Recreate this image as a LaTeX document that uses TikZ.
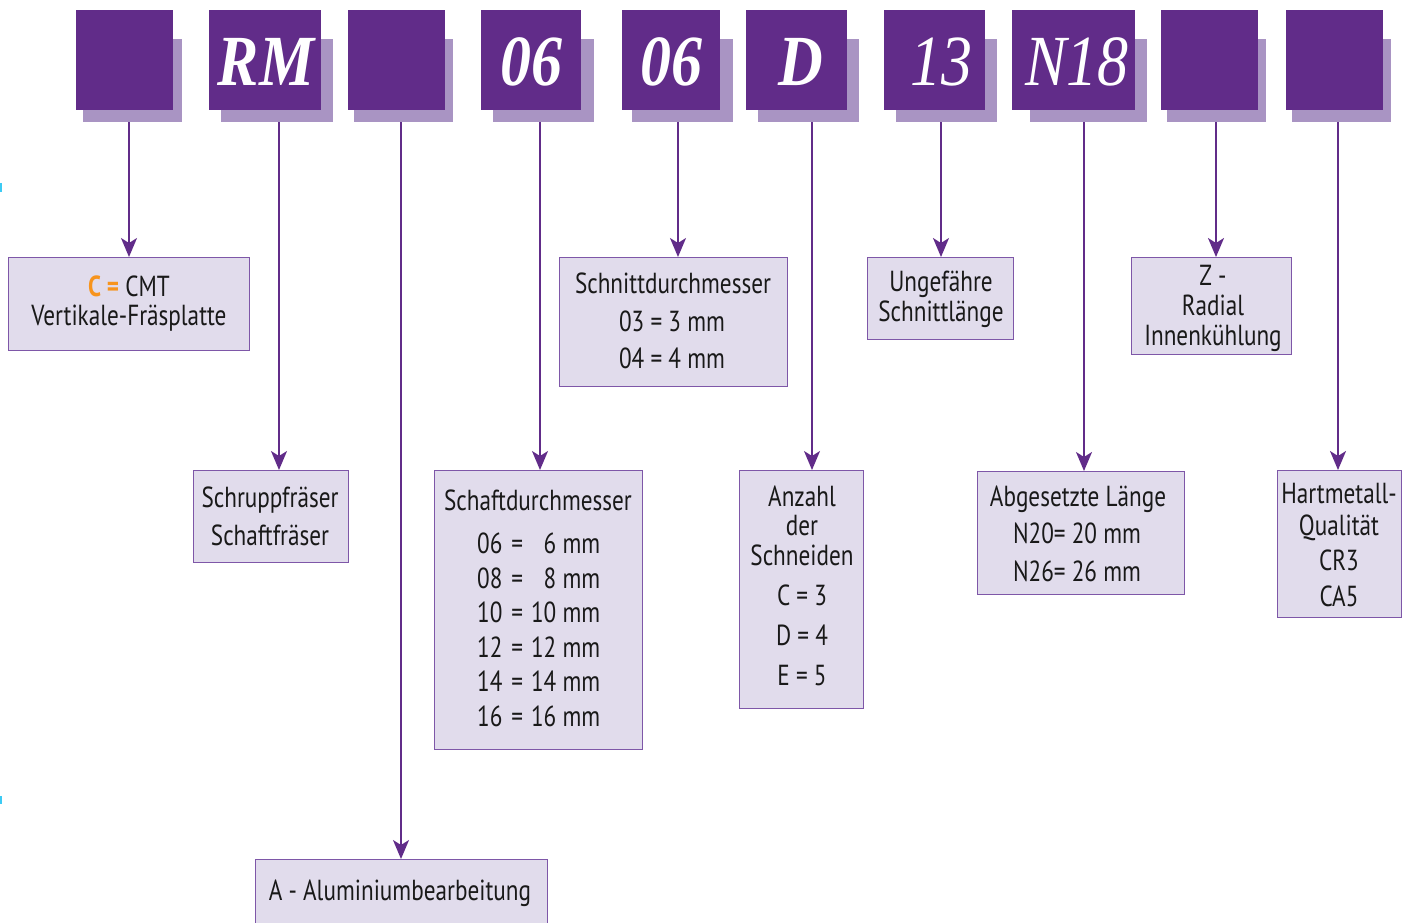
\documentclass[tikz,border=0pt]{standalone}
\usepackage{fontspec}
\setmainfont{PT Sans}[FakeStretch=0.8]
\newfontfamily\codefont{Liberation Serif}[FakeStretch=0.86]
\usetikzlibrary{arrows.meta}
\definecolor{dpurple}{HTML}{612C89}
\definecolor{spurple}{HTML}{A994C3}
\definecolor{lfill}{HTML}{E1DCEC}
\definecolor{lborder}{HTML}{7E57A8}
\definecolor{corange}{HTML}{F7941D}
\definecolor{ccyan}{HTML}{3CCBF4}
\tikzset{
  x=1pt, y=-1pt,
  front/.style={fill=dpurple, draw=none, anchor=north west, inner sep=0pt},
  shade/.style={fill=spurple, draw=none, anchor=north west, inner sep=0pt},
  code/.style={text=white, font=\codefont\bfseries\itshape\fontsize{72}{72}\selectfont, inner sep=0pt, text height=48pt, text depth=0pt},
  codel/.style={text=white, font=\codefont\itshape\fontsize{72}{72}\selectfont, inner sep=0pt, text height=48pt, text depth=0pt},
  infobox/.style={fill=lfill, draw=lborder, line width=1.3pt, anchor=north west, inner sep=0pt},
  txt/.style={font=\fontsize{29}{29}\selectfont, inner sep=0pt, text height=20pt, text depth=0pt, text=black!90},
  conn/.style={draw=dpurple, line width=1.8pt, -{Stealth[length=19pt, width=16pt, inset=5pt]}},
}
\begin{document}
\begin{tikzpicture}
\useasboundingbox (0,0) rectangle (1411,922);
\clip (0,0) rectangle (1411,922);
% left edge marks
\fill[ccyan] (0,183) rectangle (1.5,192);
\fill[ccyan] (0,796) rectangle (1.5,804);
% ---- top code boxes: shadows ----
\node[shade, minimum width=99pt, minimum height=83pt] (s1) at (83,39) {};
\node[shade, minimum width=112pt, minimum height=83pt] (s2) at (221,39) {};
\node[shade, minimum width=99pt, minimum height=83pt] (s3) at (354,39) {};
\node[shade, minimum width=101pt, minimum height=83pt] (s4) at (493,39) {};
\node[shade, minimum width=101pt, minimum height=83pt] (s5) at (632,39) {};
\node[shade, minimum width=101pt, minimum height=83pt] (s6) at (758,39) {};
\node[shade, minimum width=101pt, minimum height=83pt] (s7) at (896,39) {};
\node[shade, minimum width=117pt, minimum height=83pt] (s8) at (1030,39) {};
\node[shade, minimum width=99pt, minimum height=83pt] (s9) at (1167,39) {};
\node[shade, minimum width=99pt, minimum height=83pt] (s10) at (1292,39) {};
% ---- fronts ----
\node[front, minimum width=97pt, minimum height=100pt] (f1) at (76,10) {};
\node[front, minimum width=112pt, minimum height=100pt] (f2) at (209,10) {};
\node[front, minimum width=97pt, minimum height=100pt] (f3) at (348,10) {};
\node[front, minimum width=100pt, minimum height=100pt] (f4) at (481,10) {};
\node[front, minimum width=98pt, minimum height=100pt] (f5) at (622,10) {};
\node[front, minimum width=101pt, minimum height=100pt] (f6) at (746,10) {};
\node[front, minimum width=101pt, minimum height=100pt] (f7) at (884,10) {};
\node[front, minimum width=123pt, minimum height=100pt] (f8) at (1012,10) {};
\node[front, minimum width=97pt, minimum height=100pt] (f9) at (1161,10) {};
\node[front, minimum width=97pt, minimum height=100pt] (f10) at (1286,10) {};
% ---- code letters ----
\node[code] (c2) at (266,61) {RM};
\node[code] (c4) at (531,61) {06};
\node[code] (c5) at (671,61) {06};
\node[code] (c6) at (801,61) {D};
\node[codel] (c7) at (941,61) {13};
\node[codel] (c8) at (1077,61) {N18};
% ---- info boxes ----
\node[infobox, minimum width=241pt, minimum height=93pt] (bA) at (8,257) {};
\node[infobox, minimum width=155pt, minimum height=92pt] (bB) at (193,470) {};
\node[infobox, minimum width=292pt, minimum height=80pt] (bC) at (255,859) {};
\node[infobox, minimum width=208pt, minimum height=279pt] (bD) at (434,470) {};
\node[infobox, minimum width=228pt, minimum height=129pt] (bF) at (559,257) {};
\node[infobox, minimum width=124pt, minimum height=238pt] (bE) at (739,470) {};
\node[infobox, minimum width=146pt, minimum height=82pt] (bG) at (867,257) {};
\node[infobox, minimum width=160pt, minimum height=97pt] (bH) at (1131,257) {};
\node[infobox, minimum width=207pt, minimum height=123pt] (bI) at (977,471) {};
\node[infobox, minimum width=124pt, minimum height=147pt] (bJ) at (1277,470) {};
% ---- connectors ----
\coordinate (t1) at (129,122);  \coordinate (t2) at (279,122);
\coordinate (t3) at (401,122);  \coordinate (t4) at (540,122);
\coordinate (t5) at (678,122);  \coordinate (t6) at (812,122);
\coordinate (t7) at (941,122);  \coordinate (t8) at (1084,122);
\coordinate (t9) at (1216,122); \coordinate (t10) at (1338,122);
\draw[conn] (t1) -- (t1 |- bA.north);
\draw[conn] (t2) -- (t2 |- bB.north);
\draw[conn] (t3) -- (t3 |- bC.north);
\draw[conn] (t4) -- (t4 |- bD.north);
\draw[conn] (t5) -- (t5 |- bF.north);
\draw[conn] (t6) -- (t6 |- bE.north);
\draw[conn] (t7) -- (t7 |- bG.north);
\draw[conn] (t8) -- (t8 |- bI.north);
\draw[conn] (t9) -- (t9 |- bH.north);
\draw[conn] (t10) -- (t10 |- bJ.north);
% ---- texts ----
\node[txt] (a1) at (129,286) {\textcolor{corange}{\textbf{C =}} CMT};
\node[txt] (a2) at (129,315) {Vertikale-Fräsplatte};
\node[txt] (b1) at (270,497) {Schruppfräser};
\node[txt] (b2) at (270,535) {Schaftfräser};
\node[txt] (cc1) at (400,890) {A - Aluminiumbearbeitung};
\node[txt] (d0) at (538,500) {Schaftdurchmesser};
\node[txt, anchor=west] (d1) at (477,543) {\makebox[31pt][l]{06}\makebox[18pt]{=}\makebox[74pt][r]{6 mm}};
\node[txt, anchor=west] (d2) at (477,578) {\makebox[31pt][l]{08}\makebox[18pt]{=}\makebox[74pt][r]{8 mm}};
\node[txt, anchor=west] (d3) at (477,612) {\makebox[31pt][l]{10}\makebox[18pt]{=}\makebox[74pt][r]{10 mm}};
\node[txt, anchor=west] (d4) at (477,647) {\makebox[31pt][l]{12}\makebox[18pt]{=}\makebox[74pt][r]{12 mm}};
\node[txt, anchor=west] (d5) at (477,681) {\makebox[31pt][l]{14}\makebox[18pt]{=}\makebox[74pt][r]{14 mm}};
\node[txt, anchor=west] (d6) at (477,716) {\makebox[31pt][l]{16}\makebox[18pt]{=}\makebox[74pt][r]{16 mm}};
\node[txt] (f1t) at (673,283) {Schnittdurchmesser};
\node[txt] (f2t) at (672,321) {03 = 3 mm};
\node[txt] (f3t) at (672,358) {04 = 4 mm};
\node[txt] (e1) at (802,496) {Anzahl};
\node[txt] (e2) at (802,525) {der};
\node[txt] (e3) at (802,555) {Schneiden};
\node[txt] (e4) at (802,595) {C = 3};
\node[txt] (e5) at (802,635) {D = 4};
\node[txt] (e6) at (802,675) {E = 5};
\node[txt] (g1) at (941,281) {Ungefähre};
\node[txt] (g2) at (941,311) {Schnittlänge};
\node[txt] (h1) at (1213,275) {Z -};
\node[txt] (h2) at (1213,305) {Radial};
\node[txt] (h3) at (1213,335) {Innenkühlung};
\node[txt] (i1) at (1078,496) {Abgesetzte Länge};
\node[txt] (i2) at (1077,533) {N20= 20 mm};
\node[txt] (i3) at (1077,571) {N26= 26 mm};
\node[txt] (j1) at (1339,493) {Hartmetall-};
\node[txt] (j2) at (1339,525) {Qualität};
\node[txt] (j3) at (1339,560) {CR3};
\node[txt] (j4) at (1339,596) {CA5};
\end{tikzpicture}
\end{document}
